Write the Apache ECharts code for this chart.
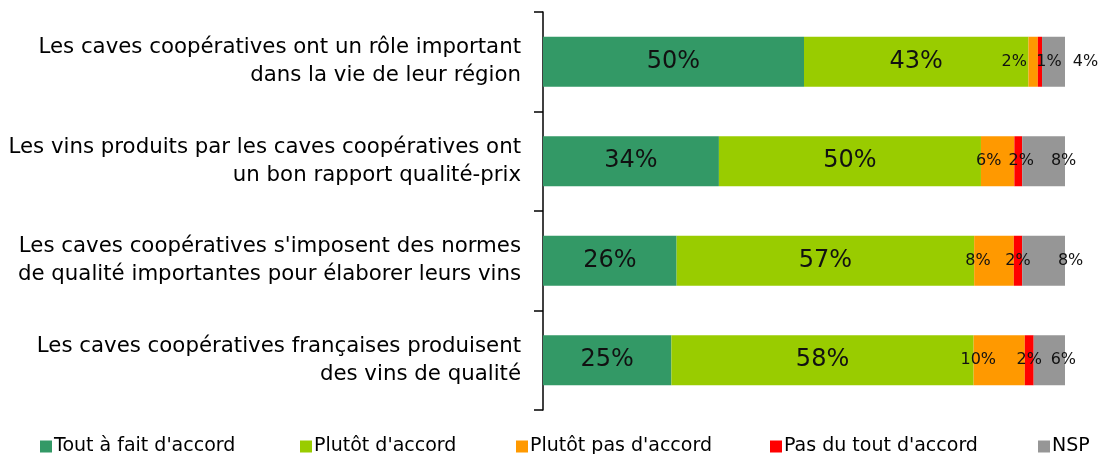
<!DOCTYPE html>
<html>
<head>
<meta charset="UTF-8">
<title>Caves coopératives</title>
<script src="https://cdn.jsdelivr.net/npm/echarts@6/dist/echarts.min.js"></script>
<style>
html, body { margin: 0; padding: 0; background: #fff; }
#chart { width: 1103px; height: 454px; }
</style>
</head>
<body>
<div id="chart"></div>
<script>
// questions (top to bottom)
var categories = [
  "Les caves coopératives ont un rôle important\ndans la vie de leur région",
  "Les vins produits par les caves coopératives ont\nun bon rapport qualité-prix",
  "Les caves coopératives s'imposent des normes\nde qualité importantes pour élaborer leurs vins",
  "Les caves coopératives françaises produisent\ndes vins de qualité"
];
var seriesNames = ["Tout à fait d'accord", "Plutôt d'accord", "Plutôt pas d'accord", "Pas du tout d'accord", "NSP"];
// % par réponse
var toutAFait = [50.0, 33.7, 25.6, 24.6];
var plutot = [43.0, 50.2, 57.0, 57.9];
var plutotPas = [1.8, 6.4, 7.6, 9.8];
var pasDuTout = [0.8, 1.5, 1.6, 1.7];
var nsp = [4.4, 8.2, 8.2, 6.0];

var colors = ['#339966', '#99CC00', '#FF9900', '#FF0000', '#969696'];
var values = [toutAFait, plutot, plutotPas, pasDuTout, nsp];
// décalage manuel des petites étiquettes (comme dans le graphique d'origine)
var offsets = [
  null,
  null,
  [[-19, 0], [-9, 0], [-16, 0], [-21, 0]],
  [[9, 0], [3, 0], [0, 0], [0, 0]],
  [[32, 0], [20, 0], [27, 0], [14, 0]]
];
var legendLeft = [35, 295, 511, 765, 1033];

var font = 'DejaVu Sans';
var chart = echarts.init(document.getElementById('chart'));

var series = values.map(function (arr, si) {
  var big = si < 2;
  return {
    name: seriesNames[si],
    type: 'bar',
    stack: 'total',
    barWidth: 50,
    itemStyle: { color: colors[si] },
    data: arr.map(function (v, i) {
      var d = { value: v };
      if (offsets[si]) d.label = { offset: offsets[si][i] };
      return d;
    }),
    label: {
      show: true,
      position: 'inside',
      color: '#111',
      fontFamily: font,
      fontSize: big ? 24 : 16,
      formatter: function (p) { return Math.round(p.value) + '%'; }
    }
  };
});

var legends = seriesNames.map(function (n, i) {
  return {
    data: [n],
    left: legendLeft[i],
    bottom: -7,
    icon: 'rect',
    itemWidth: 12,
    itemHeight: 12,
    itemGap: 0,
    selectedMode: false,
    textStyle: { fontFamily: font, fontSize: 19, color: '#000', padding: [0, 0, 0, -3] }
  };
});

chart.setOption({
  animation: false,
  color: colors,
  legend: legends,
  grid: { left: 543, right: 38, top: 12, bottom: 44 },
  xAxis: {
    type: 'value',
    min: 0,
    max: 100,
    show: false
  },
  yAxis: {
    type: 'category',
    inverse: true,
    data: categories,
    axisLine: { show: true, lineStyle: { color: '#000', width: 1.5 } },
    axisTick: { show: true, length: 9, lineStyle: { color: '#000', width: 1.5 } },
    axisLabel: {
      fontFamily: font,
      fontSize: 21.3,
      color: '#000',
      lineHeight: 28,
      margin: 22,
      align: 'right'
    }
  },
  series: series
});
</script>
</body>
</html>
